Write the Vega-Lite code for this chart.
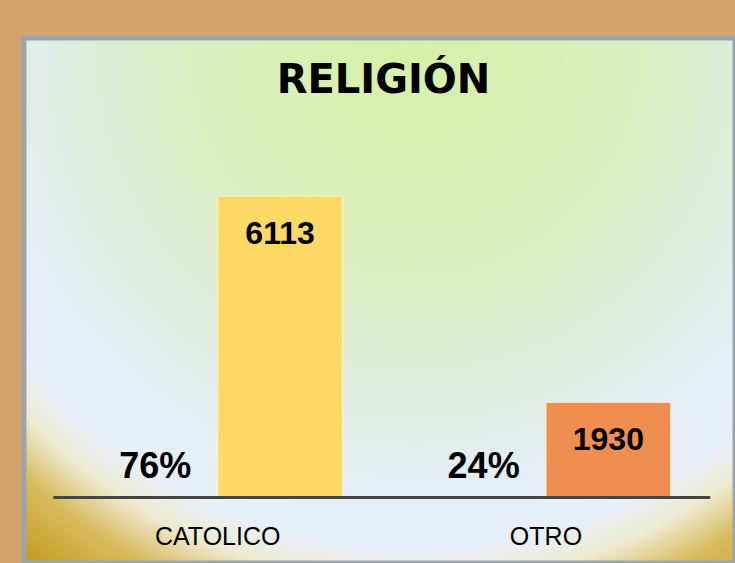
{
  "$schema": "https://vega.github.io/schema/vega-lite/v6.json",
  "width": 711,
  "height": 525,
  "autosize": "none",
  "padding": {"left": 24, "top": 38, "right": 0, "bottom": 0},
  "background": "#D3A46B",
  "view": {
    "fill": {
      "gradient": "radial",
      "x1": 0.55, "y1": 0.15, "r1": 0,
      "x2": 0.55, "y2": 0.15, "r2": 1,
      "stops": [
        {"offset": 0, "color": "#D6F0A8"},
        {"offset": 0.3, "color": "#DCEFC0"},
        {"offset": 0.5, "color": "#E0EDE2"},
        {"offset": 0.62, "color": "#E4EEF6"},
        {"offset": 0.7, "color": "#E8F0FA"},
        {"offset": 0.75, "color": "#EEEAD0"},
        {"offset": 0.81, "color": "#D8BC60"},
        {"offset": 0.9, "color": "#C49C20"}
      ]
    },
    "stroke": "#9EA4AC",
    "strokeWidth": 5
  },
  "title": {
    "text": "RELIGIÓN",
    "font": "DejaVu Sans",
    "fontWeight": "bold",
    "fontSize": 40,
    "color": "#000000",
    "anchor": "middle",
    "frame": "group",
    "offset": 0,
    "baseline": "alphabetic",
    "dy": 95,
    "dx": 4
  },
  "data": {
    "values": [
      {"cat": "CATOLICO", "series": "pct", "value": 76, "label": "76%"},
      {"cat": "CATOLICO", "series": "count", "value": 6113, "label": "6113"},
      {"cat": "OTRO", "series": "pct", "value": 24, "label": "24%"},
      {"cat": "OTRO", "series": "count", "value": 1930, "label": "1930"}
    ]
  },
  "encoding": {
    "x": {
      "field": "cat",
      "type": "nominal",
      "sort": ["CATOLICO", "OTRO"],
      "axis": null,
      "scale": {"paddingInner": 0, "paddingOuter": 0.0829, "align": 0.543}
    }
  },
  "layer": [
    {
      "transform": [{"filter": "datum.series === 'count'"}],
      "mark": {"type": "bar", "stroke": "#FFF2C8", "strokeWidth": 1},
      "encoding": {
        "xOffset": {
          "field": "series",
          "type": "nominal",
          "scale": {"domain": ["pct", "count"], "paddingInner": 0, "paddingOuter": 0.316}
        },
        "y": {
          "field": "value",
          "type": "quantitative",
          "axis": null,
          "scale": {"domain": [-1329, 9320], "nice": false, "zero": false}
        },
        "y2": {"datum": 0},
        "color": {
          "field": "cat",
          "type": "nominal",
          "legend": null,
          "scale": {"domain": ["CATOLICO", "OTRO"], "range": ["#FFD966", "#EE8E50"]}
        }
      }
    },
    {
      "mark": {"type": "bar", "color": "#454545", "width": {"band": 1}},
      "encoding": {
        "y": {"datum": 30, "type": "quantitative"},
        "y2": {"datum": -30}
      }
    },
    {
      "transform": [{"filter": "datum.series === 'count'"}],
      "mark": {
        "type": "text",
        "font": "Liberation Sans",
        "fontWeight": "bold",
        "fontSize": 32,
        "baseline": "alphabetic",
        "dy": 48,
        "color": "#000000"
      },
      "encoding": {
        "xOffset": {"field": "series", "type": "nominal"},
        "y": {"field": "value", "type": "quantitative"},
        "text": {"field": "label"}
      }
    },
    {
      "transform": [{"filter": "datum.series === 'pct'"}],
      "mark": {
        "type": "text",
        "font": "Liberation Sans",
        "fontWeight": "bold",
        "fontSize": 36,
        "baseline": "alphabetic",
        "color": "#000000"
      },
      "encoding": {
        "xOffset": {"field": "series", "type": "nominal"},
        "y": {"datum": 395, "type": "quantitative"},
        "text": {"field": "label"}
      }
    },
    {
      "transform": [{"filter": "datum.series === 'count'"}],
      "mark": {
        "type": "text",
        "font": "Liberation Sans",
        "fontSize": 25,
        "baseline": "alphabetic",
        "color": "#000000"
      },
      "encoding": {
        "y": {"datum": -961, "type": "quantitative"},
        "text": {"field": "cat"}
      }
    }
  ]
}
